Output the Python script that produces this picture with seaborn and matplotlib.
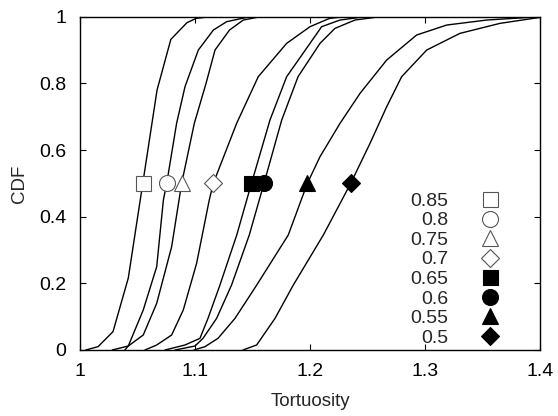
import matplotlib
matplotlib.use("Agg")
import matplotlib.pyplot as plt
from matplotlib.lines import Line2D
from matplotlib.ticker import FixedLocator, FuncFormatter
import numpy as np
import pandas as pd
import seaborn as sns

# Threshold of each tortuosity distribution
thresholds = ["0.85", "0.8", "0.75", "0.7", "0.65", "0.6", "0.55", "0.5"]

# Empirical CDF polylines (tortuosity, cumulative fraction) per threshold
tort_085 = [1.005, 1.0157, 1.0287, 1.042, 1.067, 1.079, 1.093, 1.101, 1.113]
cdf_085 = [0.0, 0.01, 0.055, 0.216, 0.78, 0.932, 0.982, 0.995, 1.0]

tort_080 = [1.028, 1.042, 1.055, 1.0667, 1.0725, 1.0754, 1.084, 1.0913, 1.1029, 1.116, 1.1275, 1.145, 1.16]
cdf_080 = [0.0, 0.012, 0.12, 0.25, 0.45, 0.5, 0.68, 0.79, 0.9, 0.96, 0.985, 0.998, 1.0]

tort_075 = [1.039, 1.042, 1.055, 1.0667, 1.0797, 1.0884, 1.0994, 1.1096, 1.1174, 1.130, 1.142, 1.157]
cdf_075 = [0.0, 0.012, 0.045, 0.14, 0.31, 0.5, 0.68, 0.8, 0.9, 0.96, 0.99, 1.0]

tort_070 = [1.0565, 1.0667, 1.0797, 1.0898, 1.1014, 1.1124, 1.1159, 1.1362, 1.155, 1.1797, 1.2, 1.217, 1.23]
cdf_070 = [0.0, 0.015, 0.045, 0.12, 0.26, 0.45, 0.5, 0.68, 0.82, 0.92, 0.97, 0.995, 1.0]

tort_065 = [1.0739, 1.0913, 1.1043, 1.1113, 1.1217, 1.1363, 1.1491, 1.1652, 1.1797, 1.2, 1.2101, 1.2261, 1.2478]
cdf_065 = [0.0, 0.015, 0.035, 0.095, 0.195, 0.345, 0.5, 0.69, 0.82, 0.92, 0.97, 0.99, 1.0]

tort_060 = [1.0826, 1.1, 1.107, 1.1188, 1.1318, 1.1472, 1.16, 1.1754, 1.1896, 1.2087, 1.2217, 1.2391, 1.2609]
cdf_060 = [0.0, 0.012, 0.035, 0.095, 0.195, 0.345, 0.5, 0.69, 0.82, 0.92, 0.965, 0.99, 1.0]

tort_055 = [1.0991, 1.1087, 1.12, 1.1348, 1.1537, 1.1811, 1.1977, 1.2087, 1.2261, 1.2435, 1.2667, 1.2927, 1.3189, 1.3537, 1.4]
cdf_055 = [0.0, 0.01, 0.035, 0.095, 0.195, 0.345, 0.5, 0.58, 0.68, 0.77, 0.87, 0.945, 0.975, 0.99, 1.0]

tort_050 = [1.1417, 1.1536, 1.1696, 1.1855, 1.2116, 1.2354, 1.2522, 1.2667, 1.2797, 1.3015, 1.3304, 1.3652, 1.4]
cdf_050 = [0.0, 0.015, 0.095, 0.195, 0.345, 0.5, 0.62, 0.73, 0.82, 0.9, 0.95, 0.98, 0.998]

# Median tortuosity of each distribution (where CDF = 0.5)
medians = [1.0545, 1.0754, 1.0884, 1.1159, 1.1491, 1.1600, 1.1977, 1.2354]
median_cdf = [0.5] * len(medians)

x_ticks = [1.0, 1.1, 1.2, 1.3, 1.4]
y_ticks = [0.0, 0.2, 0.4, 0.6, 0.8, 1.0]

curves = [
    (tort_085, cdf_085), (tort_080, cdf_080), (tort_075, cdf_075), (tort_070, cdf_070),
    (tort_065, cdf_065), (tort_060, cdf_060), (tort_055, cdf_055), (tort_050, cdf_050),
]

rows = []
for name, (xs, ys) in zip(thresholds, curves):
    for i, (xv, yv) in enumerate(zip(xs, ys)):
        rows.append({"threshold": name, "order": i, "tortuosity": xv, "cdf": yv})
df = pd.DataFrame(rows)

sns.set_style("ticks")
plt.rcParams["font.family"] = ["Liberation Sans", "DejaVu Sans"]
plt.rcParams["font.size"] = 14

fig = plt.figure(figsize=(5.58, 4.16), dpi=100)
ax = fig.add_axes([80 / 558, 66 / 416, 460 / 558, 333.3 / 416])

sns.lineplot(data=df, x="tortuosity", y="cdf", units="threshold", estimator=None,
             sort=False, color="black", linewidth=1.0, ax=ax, legend=False)

# marker style per threshold: (shape, filled)
marker_styles = [("s", False), ("o", False), ("^", False), ("D", False),
                 ("s", True), ("o", True), ("^", True), ("D", True)]
marker_sizes = {"s": 10.8, "o": 11.5, "^": 11.0, "D": 9.5}

handles = []
for name, xm, ym, (mk, filled) in zip(thresholds, medians, median_cdf, marker_styles):
    face = "black" if filled else "white"
    edge = "black" if filled else "#555555"
    ms = marker_sizes[mk]
    ax.plot([xm], [ym], linestyle="none", marker=mk, markersize=ms,
            markerfacecolor=face, markeredgecolor=edge,
            markeredgewidth=0.8, zorder=5)
    handles.append(Line2D([], [], linestyle="none", marker=mk, markersize=ms,
                          markerfacecolor=face, markeredgecolor=edge,
                          markeredgewidth=0.8))

leg = ax.legend(handles, thresholds, loc="lower right", bbox_to_anchor=(0.922, 0.01),
                markerfirst=False, frameon=False, handlelength=1.5, handletextpad=1.35,
                labelspacing=0.1, borderpad=0.0, borderaxespad=0.0, fontsize=14)

ax.set_xlim(1.0, 1.4)
ax.set_ylim(0.0, 1.0)
ax.xaxis.set_major_locator(FixedLocator(x_ticks))
ax.yaxis.set_major_locator(FixedLocator(y_ticks))
fmt = FuncFormatter(lambda v, p: f"{v:g}")
ax.xaxis.set_major_formatter(fmt)
ax.yaxis.set_major_formatter(fmt)
ax.tick_params(direction="in", length=4, width=0.8, top=True, right=True,
               labelsize=14, colors="black")
ax.tick_params(axis="y", pad=10)
ax.tick_params(axis="x", pad=9)
for sp in ax.spines.values():
    sp.set_visible(True)
    sp.set_linewidth(1.0)
    sp.set_color("black")

ax.set_xlabel("Tortuosity", fontsize=13.5, labelpad=10)
ax.set_ylabel("CDF", fontsize=13.5, labelpad=8)

fig.savefig("out.png", dpi=100)
